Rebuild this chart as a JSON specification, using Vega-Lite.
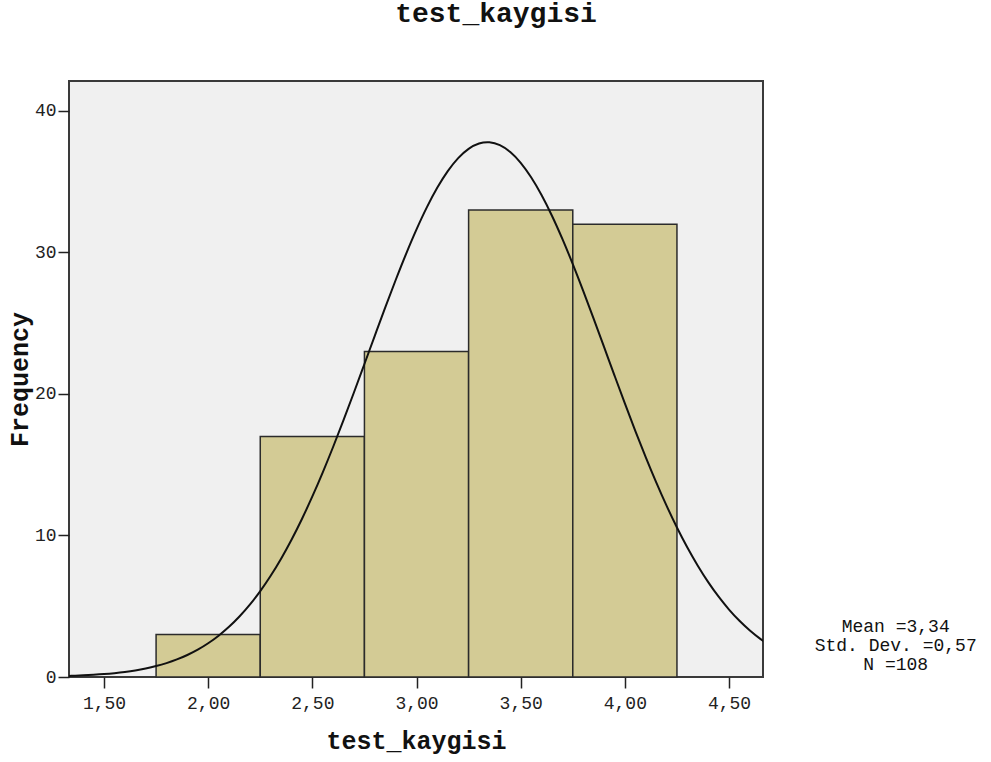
{
  "$schema": "https://vega.github.io/schema/vega-lite/v6.json",
  "autosize": {"type": "none"},
  "width": 694,
  "height": 596,
  "padding": {"left": 69, "top": 81, "right": 228, "bottom": 85},
  "background": "#ffffff",
  "title": {
    "text": "test_kaygisi",
    "font": "Liberation Mono",
    "fontSize": 28,
    "fontWeight": "bold",
    "color": "#111111",
    "frame": "group",
    "anchor": "middle",
    "dx": 80,
    "baseline": "alphabetic",
    "offset": 31
  },
  "datasets": {
    "bins": [
      {"lo": 1.75, "hi": 2.25, "count": 3},
      {"lo": 2.25, "hi": 2.75, "count": 17},
      {"lo": 2.75, "hi": 3.25, "count": 23},
      {"lo": 3.25, "hi": 3.75, "count": 33},
      {"lo": 3.75, "hi": 4.25, "count": 32}
    ],
    "normal": [
      {"x": 1.30, "y": 0.062}, {"x": 1.35, "y": 0.085}, {"x": 1.40, "y": 0.115},
      {"x": 1.45, "y": 0.155}, {"x": 1.50, "y": 0.206}, {"x": 1.55, "y": 0.273},
      {"x": 1.60, "y": 0.358}, {"x": 1.65, "y": 0.466}, {"x": 1.70, "y": 0.603},
      {"x": 1.75, "y": 0.772}, {"x": 1.80, "y": 0.982}, {"x": 1.85, "y": 1.241},
      {"x": 1.90, "y": 1.555}, {"x": 1.95, "y": 1.933}, {"x": 2.00, "y": 2.384},
      {"x": 2.05, "y": 2.919}, {"x": 2.10, "y": 3.546}, {"x": 2.15, "y": 4.275},
      {"x": 2.20, "y": 5.115}, {"x": 2.25, "y": 6.073}, {"x": 2.30, "y": 7.154},
      {"x": 2.35, "y": 8.364}, {"x": 2.40, "y": 9.703}, {"x": 2.45, "y": 11.170},
      {"x": 2.50, "y": 12.760}, {"x": 2.55, "y": 14.465}, {"x": 2.60, "y": 16.272},
      {"x": 2.65, "y": 18.165}, {"x": 2.70, "y": 20.124}, {"x": 2.75, "y": 22.121},
      {"x": 2.80, "y": 24.130}, {"x": 2.85, "y": 26.119}, {"x": 2.90, "y": 28.056},
      {"x": 2.95, "y": 29.907}, {"x": 3.00, "y": 31.635}, {"x": 3.05, "y": 33.207},
      {"x": 3.10, "y": 34.589}, {"x": 3.15, "y": 35.753}, {"x": 3.20, "y": 36.672},
      {"x": 3.25, "y": 37.327}, {"x": 3.30, "y": 37.702}, {"x": 3.34, "y": 37.795},
      {"x": 3.35, "y": 37.789}, {"x": 3.40, "y": 37.586}, {"x": 3.45, "y": 37.098},
      {"x": 3.50, "y": 36.335}, {"x": 3.55, "y": 35.315}, {"x": 3.60, "y": 34.061},
      {"x": 3.65, "y": 32.599}, {"x": 3.70, "y": 30.961}, {"x": 3.75, "y": 29.180},
      {"x": 3.80, "y": 27.290}, {"x": 3.85, "y": 25.327}, {"x": 3.90, "y": 23.326},
      {"x": 3.95, "y": 21.318}, {"x": 4.00, "y": 19.333}, {"x": 4.05, "y": 17.399},
      {"x": 4.10, "y": 15.538}, {"x": 4.15, "y": 13.770}, {"x": 4.20, "y": 12.110},
      {"x": 4.25, "y": 10.568}, {"x": 4.30, "y": 9.151}, {"x": 4.35, "y": 7.866},
      {"x": 4.40, "y": 6.707}, {"x": 4.45, "y": 5.675}, {"x": 4.50, "y": 4.767},
      {"x": 4.55, "y": 3.971}, {"x": 4.60, "y": 3.284}, {"x": 4.65, "y": 2.695},
      {"x": 4.70, "y": 2.195}
    ]
  },
  "layer": [
    {
      "data": {"name": "bins"},
      "mark": {"type": "rect", "fill": "#d3cb95", "stroke": "#2b2b2b", "strokeWidth": 1.5},
      "encoding": {
        "x": {
          "field": "lo",
          "type": "quantitative",
          "scale": {"domain": [1.332, 4.663], "nice": false, "zero": false},
          "axis": {
            "values": [1.5, 2, 2.5, 3, 3.5, 4, 4.5],
            "labelExpr": "replace(format(datum.value, '.2f'), '.', ',')",
            "title": "test_kaygisi",
            "titlePadding": 16
          }
        },
        "x2": {"field": "hi"},
        "y": {
          "field": "count",
          "type": "quantitative",
          "scale": {"domain": [0, 42.12], "nice": false},
          "axis": {"values": [0, 10, 20, 30, 40], "title": "Frequency", "titlePadding": 2, "labelPadding": 2}
        },
        "y2": {"datum": 0}
      }
    },
    {
      "data": {"name": "normal"},
      "mark": {"type": "line", "color": "#111111", "strokeWidth": 2, "interpolate": "monotone", "clip": true},
      "encoding": {
        "x": {"field": "x", "type": "quantitative"},
        "y": {"field": "y", "type": "quantitative"}
      }
    },
    {
      "data": {"values": [{"stat": "summary"}]},
      "mark": {
        "type": "text",
        "font": "Liberation Mono",
        "fontSize": 18,
        "lineHeight": 19,
        "align": "center",
        "baseline": "middle",
        "color": "#111111"
      },
      "encoding": {
        "x": {"datum": 5.3},
        "y": {"datum": 3.5},
        "text": {"value": ["Mean =3,34", "Std. Dev. =0,57", "N =108"]}
      }
    }
  ],
  "config": {
    "view": {"fill": "#f0f0f0", "stroke": "#3a3a3a", "strokeWidth": 2},
    "axis": {
      "grid": false,
      "domain": false,
      "tickColor": "#222222",
      "tickSize": 11,
      "tickWidth": 1.5,
      "labelFont": "Liberation Mono",
      "labelFontSize": 18,
      "labelColor": "#222222",
      "labelPadding": 6,
      "titleFont": "Liberation Mono",
      "titleFontSize": 25,
      "titleFontWeight": "bold",
      "titleColor": "#111111"
    }
  }
}
